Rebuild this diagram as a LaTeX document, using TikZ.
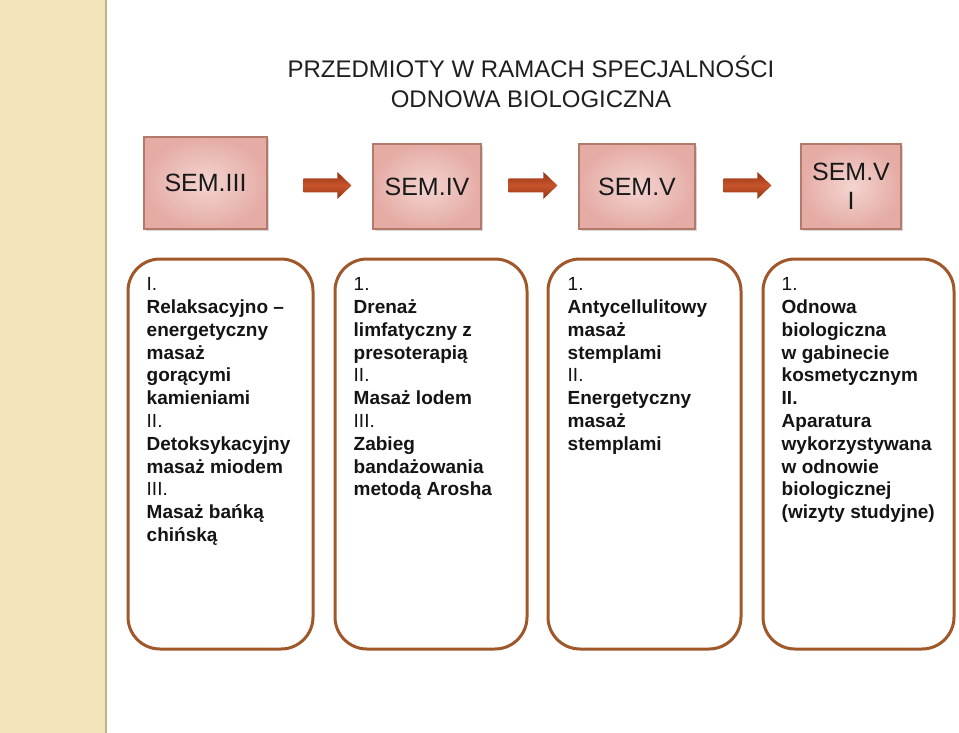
\documentclass[tikz,border=0pt]{standalone}
\usepackage{fontspec}
\setmainfont{Liberation Sans}
\usetikzlibrary{calc,shadows}
\definecolor{sidebg}{RGB}{244,228,188}
\definecolor{sideedge}{RGB}{190,180,140}
\definecolor{semin}{RGB}{244,212,208}
\definecolor{semout}{RGB}{229,172,165}
\definecolor{semedge}{RGB}{178,122,106}
\definecolor{bigedge}{RGB}{160,88,42}
\definecolor{arrdark}{RGB}{145,52,20}
\definecolor{arrlight}{RGB}{200,84,44}
\tikzset{
  sembox/.style={draw=semedge, line width=1.2pt, inner color=semin, outer color=semout,
    drop shadow={shadow xshift=1.5pt, shadow yshift=-2pt, opacity=0.3},
    font=\fontsize{25}{29}\selectfont, align=center, text=black!90},
  bigbox/.style={draw=bigedge, line width=3pt, rounded corners=32pt, fill=white},
  itemtext/.style={anchor=north west, align=left, inner sep=0pt,
    font=\fontsize{19}{22.8}\selectfont, text=black!92},
  arrowshade/.style={top color=arrdark, bottom color=arrdark, middle color=arrlight}
}
\newcommand\blockarr[2]{\shade[arrowshade] ($(#1)+(0,-7)$) -- ($(#2)+(-14,-7)$) -- ($(#2)+(-14,-13.5)$) -- (#2) -- ($(#2)+(-14,13.5)$) -- ($(#2)+(-14,7)$) -- ($(#1)+(0,7)$) -- cycle;}
\begin{document}
\begin{tikzpicture}[x=1pt,y=-1pt]
\useasboundingbox (0,0) rectangle (959,733);
\fill[white] (0,0) rectangle (959,733);
\fill[sidebg] (0,0) rectangle (107,733);
\draw[sideedge, line width=2pt] (106,0) -- (106,733);

\node[align=center, inner sep=0pt, font=\fontsize{24}{30}\selectfont, text=black!88] (title) at (531,82)
  {PRZEDMIOTY W RAMACH SPECJALNOŚCI\\ODNOWA BIOLOGICZNA};

\node[sembox, minimum width=123pt, minimum height=92pt] (s3) at (205.5,183) {SEM.III};
\node[sembox, minimum width=108pt, minimum height=85pt] (s4) at (427,186.5) {SEM.IV};
\node[sembox, minimum width=116pt, minimum height=85pt] (s5) at (637,186.5) {SEM.V};
\node[sembox, minimum width=100pt, minimum height=85pt] (s6) at (851,186.5) {SEM.V\\I};

\coordinate (a1s) at ($(s3.east)+(36,2.5)$);
\coordinate (a1e) at ($(s4.west)+(-21,-1)$);
\coordinate (a2s) at ($(s4.east)+(27,-1)$);
\coordinate (a2e) at ($(s5.west)+(-21,-1)$);
\coordinate (a3s) at ($(s5.east)+(28,-1)$);
\coordinate (a3e) at ($(s6.west)+(-29,-1)$);
\blockarr{a1s}{a1e}
\blockarr{a2s}{a2e}
\blockarr{a3s}{a3e}

\node[bigbox, minimum width=185pt, minimum height=390pt] (b1) at (220.5,454) {};
\node[bigbox, minimum width=192pt, minimum height=390pt] (b2) at (431,454) {};
\node[bigbox, minimum width=193pt, minimum height=390pt] (b3) at (644.5,454) {};
\node[bigbox, minimum width=191pt, minimum height=390pt] (b4) at (858.5,454) {};

\node[itemtext] (t1) at ($(b1.north west)+(20,20)$) {I.\\
\textbf{Relaksacyjno –}\\\textbf{energetyczny}\\\textbf{masaż}\\\textbf{gorącymi}\\\textbf{kamieniami}\\
II.\\\textbf{Detoksykacyjny}\\\textbf{masaż miodem}\\
III.\\\textbf{Masaż bańką}\\\textbf{chińską}};

\node[itemtext] (t2) at ($(b2.north west)+(20,20)$) {1.\\
\textbf{Drenaż}\\\textbf{limfatyczny z}\\\textbf{presoterapią}\\
II.\\\textbf{Masaż lodem}\\
III.\\\textbf{Zabieg}\\\textbf{bandażowania}\\\textbf{metodą Arosha}};

\node[itemtext] (t3) at ($(b3.north west)+(21,20)$) {1.\\
\textbf{Antycellulitowy}\\\textbf{masaż}\\\textbf{stemplami}\\
II.\\\textbf{Energetyczny}\\\textbf{masaż}\\\textbf{stemplami}};

\node[itemtext] (t4) at ($(b4.north west)+(20,20)$) {1.\\
\textbf{Odnowa}\\\textbf{biologiczna}\\\textbf{w gabinecie}\\\textbf{kosmetycznym}\\
\textbf{II.}\\\textbf{Aparatura}\\\textbf{wykorzystywana}\\\textbf{w odnowie}\\\textbf{biologicznej}\\\textbf{(wizyty studyjne)}};
\end{tikzpicture}
\end{document}
